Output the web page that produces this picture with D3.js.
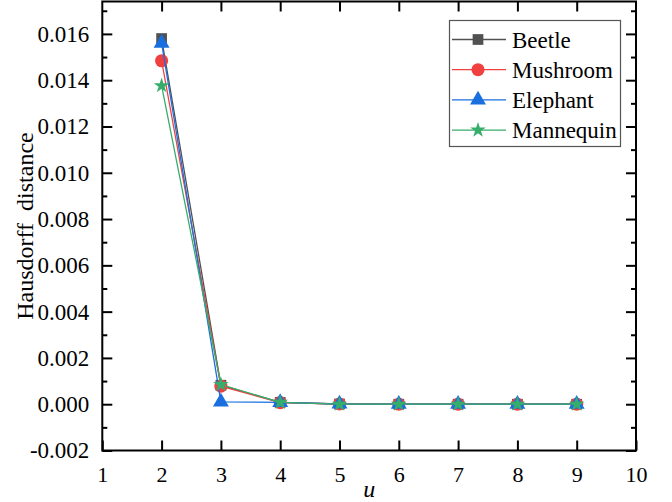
<!DOCTYPE html>
<html>
<head>
<meta charset="utf-8">
<script src="https://cdn.jsdelivr.net/npm/d3@7"></script>
<style>
  body { margin: 0; background: #fff; }
</style>
</head>
<body>
<svg id="chart" width="672" height="502"></svg>
<script>
// values
var uValues = [2, 3, 4, 5, 6, 7, 8, 9];
var beetle = [0.0158, 0.00082, 0.00008, 0.00001, 0.0, 0.0, 0.0, 0.0];
var mushroom = [0.01484, 0.00078, 0.00007, 0.00001, 0.0, 0.0, 0.0, 0.0];
var elephant = [0.0156, 0.00010, 0.00008, 0.00001, 0.0, 0.0, 0.0, 0.0];
var mannequin = [0.01376, 0.00085, 0.00008, 0.0, 0.0, 0.0, 0.0, 0.0];

var seriesNames = ["Beetle", "Mushroom", "Elephant", "Mannequin"];
var seriesColors = ["#515151", "#F14040", "#1A6FDF", "#37AD6B"];
var xTicks = [1, 2, 3, 4, 5, 6, 7, 8, 9, 10];
var yTicks = [-0.002, 0, 0.002, 0.004, 0.006, 0.008, 0.010, 0.012, 0.014, 0.016];
var yMinorTicks = [-0.001, 0.001, 0.003, 0.005, 0.007, 0.009, 0.011, 0.013, 0.015, 0.017];

var svg = d3.select("#chart");
var serif = "Liberation Serif";

var plotLeft = 102.3, plotRight = 636, plotTop = 1.5, plotBottom = 450.5;

var x = d3.scaleLinear().domain([1, 10]).range([plotLeft, plotRight]);
var y = d3.scaleLinear().domain([-0.002, 0.0174]).range([plotBottom, plotTop]);

// bottom axis with labels, ticks pointing inward
var xAxis = d3.axisBottom(x).tickValues(xTicks)
    .tickSizeInner(-10).tickSizeOuter(0).tickPadding(15.4)
    .tickFormat(d3.format("d"));
var gx = svg.append("g").attr("transform", "translate(0," + plotBottom + ")").call(xAxis);
gx.selectAll("text").style("font-size", "22px");

// top ticks
svg.append("g").attr("transform", "translate(0," + plotTop + ")")
    .call(d3.axisTop(x).tickValues(xTicks.slice(1, -1)).tickSizeInner(-10).tickSizeOuter(0).tickFormat(""));

// left axis, hyphen as minus like the original
var fmt = d3.format(".3f");
var yAxis = d3.axisLeft(y).tickValues(yTicks)
    .tickSizeInner(-10).tickSizeOuter(0).tickPadding(13)
    .tickFormat(function(d){ return fmt(d).replace("\u2212", "-"); });
var gy = svg.append("g").attr("transform", "translate(" + plotLeft + ",0)").call(yAxis);
gy.selectAll("text").style("font-size", "23px");

var minorVisible = yMinorTicks.filter(function(d){ return d < 0.0174; });
svg.append("g").attr("transform", "translate(" + plotLeft + ",0)")
    .call(d3.axisLeft(y).tickValues(minorVisible).tickSizeInner(-5).tickSizeOuter(0).tickFormat(""));

// right ticks
svg.append("g").attr("transform", "translate(" + plotRight + ",0)")
    .call(d3.axisRight(y).tickValues(yTicks).tickSizeInner(-10).tickSizeOuter(0).tickFormat(""));
svg.append("g").attr("transform", "translate(" + plotRight + ",0)")
    .call(d3.axisRight(y).tickValues(minorVisible).tickSizeInner(-5).tickSizeOuter(0).tickFormat(""));

svg.selectAll(".domain").remove();
svg.selectAll(".tick line").attr("stroke", "#000").attr("stroke-width", 2);
svg.selectAll(".tick text").attr("fill", "#000");

// frame
svg.append("rect")
    .attr("x", plotLeft).attr("y", plotTop)
    .attr("width", plotRight - plotLeft).attr("height", plotBottom - plotTop)
    .attr("fill", "none").attr("stroke", "#000").attr("stroke-width", 2);

// axis titles
svg.append("text")
    .attr("transform", "translate(33," + (plotTop + plotBottom) / 2 + ") rotate(-90)")
    .attr("text-anchor", "middle")
    .style("font-size", "24px")
    .style("white-space", "pre")
    .text("Hausdorff  distance");

svg.append("text")
    .attr("x", (plotLeft + plotRight) / 2).attr("y", 497)
    .attr("text-anchor", "middle")
    .style("font-size", "24px")
    .style("font-style", "italic")
    .text("u");

// series
var allSeries = [beetle, mushroom, elephant, mannequin];
var symbols = [
    d3.symbol().type(d3.symbolSquare).size(115),
    d3.symbol().type(d3.symbolCircle).size(135),
    d3.symbol().type(d3.symbolTriangle).size(110),
    d3.symbol().type(d3.symbolStar).size(75)
];

var line = d3.line()
    .x(function(d, i){ return x(uValues[i]); })
    .y(function(d){ return y(d); });

allSeries.forEach(function(values, s) {
    var g = svg.append("g");
    g.append("path")
        .datum(values)
        .attr("d", line)
        .attr("fill", "none")
        .attr("stroke", seriesColors[s])
        .attr("stroke-width", 1.3);
    g.selectAll("path.marker")
        .data(values)
        .enter()
        .append("path")
        .attr("class", "marker")
        .attr("d", symbols[s])
        .attr("transform", function(d, i){ return "translate(" + x(uValues[i]) + "," + y(d) + ")"; })
        .attr("fill", seriesColors[s]);
});

// legend
var legend = svg.append("g");
legend.append("rect")
    .attr("x", 449.5).attr("y", 20.5)
    .attr("width", 171).attr("height", 126)
    .attr("fill", "#fff").attr("stroke", "#555").attr("stroke-width", 1.2);

seriesNames.forEach(function(name, s) {
    var cy = 39.5 + s * 30.2;
    legend.append("line")
        .attr("x1", 452).attr("x2", 506)
        .attr("y1", cy).attr("y2", cy)
        .attr("stroke", seriesColors[s]).attr("stroke-width", 1.3);
    legend.append("path")
        .attr("d", symbols[s])
        .attr("transform", "translate(478," + cy + ")")
        .attr("fill", seriesColors[s]);
    legend.append("text")
        .attr("x", 512).attr("y", cy)
        .attr("dy", "0.35em")
        .style("font-size", "23px")
        .text(name);
});

// every text in the serif face
svg.selectAll("text").style("font-family", serif).attr("fill", "#000");
</script>
</body>
</html>
